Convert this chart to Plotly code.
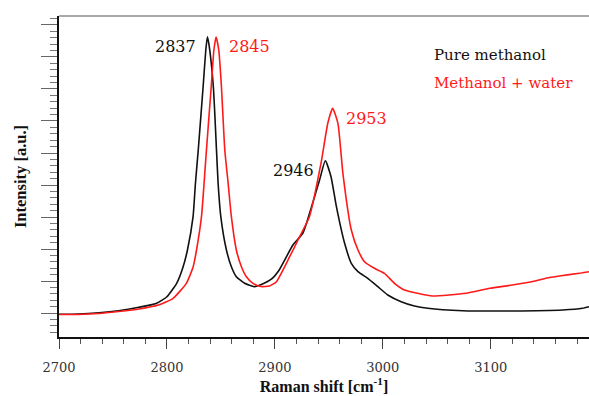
import plotly.graph_objects as go

# Raman shift (cm^-1) and intensity (a.u.)
pure_x = [2700, 2718, 2737, 2755, 2774, 2790, 2800, 2809, 2815, 2819, 2824.2, 2826.4, 2829, 2833.5,
          2836, 2837.5, 2839, 2843, 2845.9, 2847.4, 2849.9, 2855.1, 2859.7, 2864.3, 2872, 2881,
          2890, 2897, 2904, 2916.7, 2926, 2935, 2941.4, 2946.7, 2952, 2957, 2964.6, 2970.8,
          2977, 2986, 2995.4, 3004.6, 3017, 3029.3, 3041.6, 3074, 3120, 3166.6, 3185, 3191]
pure_y = [-41, -31, 9, 72, 178, 297, 509, 928, 1447, 1969, 3009, 4053, 5094, 7063,
          8219, 8634, 8375, 7063, 5094, 4053, 3009, 1969, 1447, 1134, 928, 822,
          928, 1063, 1344, 2125, 2500, 3438, 4156, 4759, 4259, 3322, 2178, 1553,
          1291, 1084, 822, 563, 353, 219, 147, 72, 63, 94, 147, 197]

mix_x = [2700, 2718, 2737, 2755, 2774, 2792, 2805.7, 2818, 2824.3, 2827.4, 2832, 2834.4, 2836.6,
         2841, 2843.5, 2845.5, 2848, 2850.5, 2853.6, 2856.7, 2859.7, 2864.3, 2869, 2873.6,
         2879.7, 2887, 2895, 2901.4, 2913.7, 2922.9, 2932, 2943, 2949, 2953.5, 2958.4, 2963,
         2970.8, 2977, 2983, 2992.2, 3001.5, 3010.8, 3020, 3032.3, 3046, 3077, 3099, 3120,
         3142, 3151, 3163.5, 3182, 3191]
mix_y = [-47, -47, -16, 47, 125, 250, 459, 928, 1447, 1969, 3009, 4053, 5094,
         7063, 8219, 8625, 8219, 7063, 5094, 4053, 3009, 1969, 1447, 1134,
         928, 828, 844, 978, 1759, 2384, 3009, 4728, 5928, 6397, 5928, 4366,
         2594, 1969, 1603, 1397, 1241, 928, 719, 616, 531, 616, 772, 875,
         1009, 1084, 1156, 1241, 1291]

peak_labels = ["2837", "2845", "2946", "2953"]
peak_x = [2837.5, 2845.5, 2946.7, 2953.5]
peak_y = [8634, 8625, 4759, 6397]

legend_names = ["Pure methanol", "Methanol + water"]
colors = ["#111111", "#ff1a1a"]

serif = "DejaVu Serif"

fig = go.Figure()
fig.add_trace(go.Scatter(x=pure_x, y=pure_y, mode="lines", name=legend_names[0],
                         line=dict(color=colors[0], width=1.6, shape="spline", smoothing=0.5)))
fig.add_trace(go.Scatter(x=mix_x, y=mix_y, mode="lines", name=legend_names[1],
                         line=dict(color=colors[1], width=1.6, shape="spline", smoothing=0.5)))

# peak labels
offsets = [(-32, -10), (33, -10), (-32, -10), (34, -10)]
lab_colors = [colors[0], colors[1], colors[0], colors[1]]
for lab, px, py, (ax, ay), c in zip(peak_labels, peak_x, peak_y, offsets, lab_colors):
    fig.add_annotation(x=px, y=py, text=lab, showarrow=False, xshift=ax, yshift=ay,
                       font=dict(family=serif, size=16, color=c))

# legend-like text
fig.add_annotation(x=0.703, y=0.878, xref="paper", yref="paper", xanchor="left", yanchor="middle",
                   text=legend_names[0], showarrow=False, font=dict(family=serif, size=15, color=colors[0]))
fig.add_annotation(x=0.703, y=0.791, xref="paper", yref="paper", xanchor="left", yanchor="middle",
                   text=legend_names[1], showarrow=False, font=dict(family=serif, size=15, color=colors[1]))

# gray top frame line
fig.add_shape(type="line", xref="paper", yref="paper", x0=0, x1=1, y0=1, y1=1,
              line=dict(color="#aaaaaa", width=2))

fig.update_layout(
    width=589, height=396,
    margin=dict(l=59, r=0, t=16, b=59),
    paper_bgcolor="white", plot_bgcolor="white",
    showlegend=False,
    font=dict(family=serif, color="#333333"),
    xaxis=dict(range=[2700, 3191], tick0=2700, dtick=100, showgrid=False, zeroline=False,
               ticks="outside", ticklen=10, tickwidth=1.3, tickcolor="#444444",
               showline=True, linecolor="#111111", linewidth=1.6, ticklabelstandoff=8,
               tickfont=dict(family=serif, size=13, color="#333333"),
               minor=dict(dtick=20, ticks="outside", ticklen=5, tickwidth=1, tickcolor="#555555"),
               title=dict(text="<b>Raman shift [cm<sup>-1</sup>]</b>", standoff=4,
                          font=dict(family="Liberation Serif", size=16, color="#111111"))),
    yaxis=dict(range=[-750, 9281], tick0=0, dtick=1000, showgrid=False, zeroline=False,
               showticklabels=False,
               ticks="outside", ticklen=16, tickwidth=1.3, tickcolor="#666666",
               showline=True, linecolor="#111111", linewidth=1.6,
               minor=dict(dtick=200, ticks="outside", ticklen=7, tickwidth=1, tickcolor="#777777"),
               title=dict(text="<b>Intensity [a.u.]</b>", standoff=10,
                          font=dict(family="Liberation Serif", size=16.5, color="#111111"))),
)

fig.write_html("out.html")
